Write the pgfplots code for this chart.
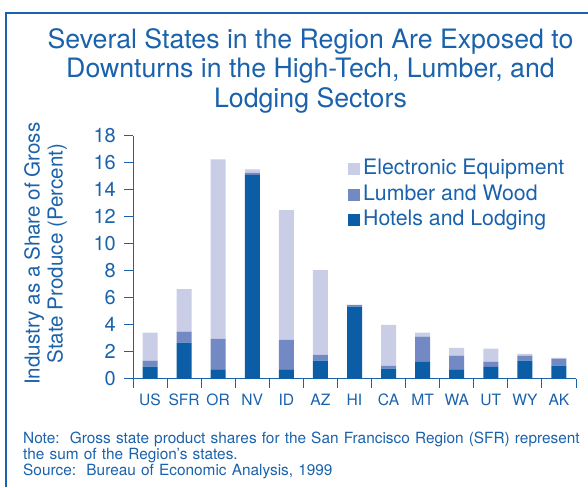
\documentclass[border=0pt]{standalone}
\usepackage{fontspec}
\setmainfont{TeX Gyre Heros}
\usepackage{pgfplots}
\usepackage{pgfplotstable}
\pgfplotsset{compat=1.18}
\definecolor{txt}{HTML}{1A62AC}
\definecolor{dark}{HTML}{0B5DA6}
\definecolor{mid}{HTML}{7289C4}
\definecolor{light}{HTML}{C9CDE6}
\pgfplotstableread{
x hotels lumber elec
0  0.89 0.44 2.08
1  2.67 0.81 3.16
2  0.67 2.27 13.33
3  15.11 0.15 0.27
4  0.67 2.19 9.63
5  1.33 0.42 6.30
6  5.33 0.13 0.00
7  0.74 0.20 3.04
8  1.23 1.88 0.30
9  0.67 1.03 0.57
10 0.86 0.40 0.96
11 1.33 0.37 0.13
12 0.96 0.52 0.05
}\datatable
\begin{document}
\begin{tikzpicture}[x=1pt,y=1pt]
\useasboundingbox (0,0) rectangle (588,487);
\draw[txt, line width=2pt] (6,0) -- (6,474) -- (588,474);
\node[txt, align=center, inner sep=0pt, anchor=north, font=\fontsize{26.7}{29.5}\selectfont] at (310.5,459) {Several States in the Region Are Exposed to\\Downturns in the High-Tech, Lumber, and\\Lodging Sectors};
\begin{axis}[at={(133pt,108.5pt)}, anchor=south west, scale only axis,
  width=443pt, height=242.5pt,
  ybar stacked, bar width=15pt,
  xmin=-0.5, xmax=12.5, ymin=0, ymax=18,
  axis lines=left, axis line style={-, txt, line width=1pt},
  ytick={0,2,...,18}, tick align=outside, major tick length=9pt,
  tick style={txt, line width=1pt},
  xtick={-0.5,0.5,...,12.5}, xticklabels={},
  extra x ticks={0,...,12},
  extra x tick labels={US,SFR,OR,NV,ID,AZ,HI,CA,MT,WA,UT,WY,AK},
  extra x tick style={major tick length=0pt},
  /pgf/number format/assume math mode=true,
  xticklabel style={text=txt, inner sep=0pt, yshift=-15pt, font=\fontsize{15.6}{18}\selectfont},
  yticklabel style={text=txt, inner sep=0pt, xshift=-8pt, font=\fontsize{20}{22}\selectfont},
  ylabel={Industry as a Share of Gross\\State Produce (Percent)},
  ylabel style={at={(axis description cs:-0.197,0.515)}, anchor=center, align=center, text=txt, font=\fontsize{20.6}{23}\selectfont},
  legend style={at={(axis description cs:0.4853,0.905)}, anchor=north west, draw=none, fill=none, inner sep=0pt,
    font=\fontsize{21.3}{23}\selectfont, text=txt, row sep=5.5pt,
    nodes={inner xsep=3pt, inner ysep=0pt, text height=15.5pt, text depth=4.5pt}},
  legend cell align=left, reverse legend,
  legend image code/.code={\fill[#1] (0pt,-6pt) rectangle (12pt,6pt);},
]
\addplot[fill=dark, draw=none] table[x=x,y=hotels]{\datatable};
\addlegendentry{Hotels and Lodging}
\addplot[fill=mid, draw=none] table[x=x,y=lumber]{\datatable};
\addlegendentry{Lumber and Wood}
\addplot[fill=light, draw=none] table[x=x,y=elec]{\datatable};
\addlegendentry{Electronic Equipment}
\end{axis}
\node[txt, anchor=north west, inner sep=0pt, align=left, text width=565pt, font=\fontsize{15.4}{13.6}\selectfont] at (23,55) {Note:\ \ Gross state product shares for the San Francisco Region (SFR) represent\\the sum of the Region’s states.\\Source:\ \ Bureau of Economic Analysis, 1999};
\end{tikzpicture}
\end{document}
